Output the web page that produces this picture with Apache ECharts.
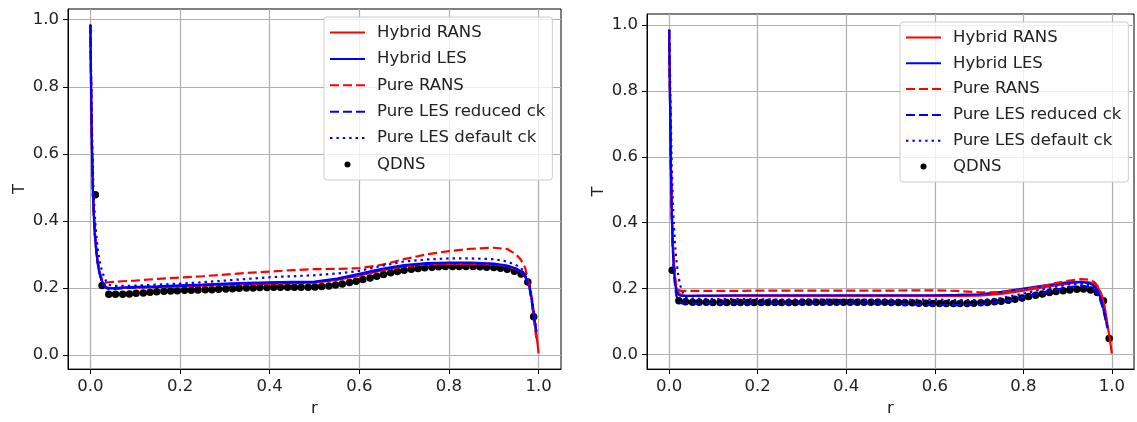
<!DOCTYPE html>
<html><head><meta charset="utf-8">
<script src="https://cdn.jsdelivr.net/npm/echarts@6/dist/echarts.min.js"></script>
<style>html,body{margin:0;padding:0;background:#fff}#c{width:1137px;height:422px}</style>
</head><body><div id="c"></div>
<script>
// ---------- data ----------
const seriesNames = ['Hybrid RANS', 'Hybrid LES', 'Pure RANS', 'Pure LES reduced ck', 'Pure LES default ck', 'QDNS'];
const tickValues = [0, 0.2, 0.4, 0.6, 0.8, 1.0];
const xLabel = 'r';
const yLabel = 'T';

// common r grid for the model curves
const rLine = [0, 0.002, 0.004, 0.006, 0.008, 0.01, 0.013, 0.016, 0.02, 0.025, 0.03, 0.035, 0.04, 0.05, 0.07, 0.1, 0.15, 0.2, 0.25, 0.3, 0.35, 0.4, 0.45, 0.5, 0.55, 0.6, 0.65, 0.7, 0.75, 0.8, 0.85, 0.9, 0.93, 0.95, 0.96, 0.97, 0.98, 0.985, 0.99, 0.995, 1.0];

// left panel
const leftHybridRans = [0.983, 0.74, 0.58, 0.47, 0.41, 0.36, 0.315, 0.28, 0.25, 0.225, 0.21, 0.203, 0.2, 0.199, 0.2, 0.201, 0.203, 0.205, 0.207, 0.209, 0.211, 0.213, 0.214, 0.216, 0.224, 0.237, 0.252, 0.264, 0.27, 0.272, 0.272, 0.27, 0.265, 0.256, 0.248, 0.235, 0.205, 0.17, 0.12, 0.065, 0.005];
const leftHybridLes = [0.985, 0.74, 0.575, 0.465, 0.405, 0.355, 0.31, 0.275, 0.245, 0.222, 0.208, 0.201, 0.199, 0.199, 0.201, 0.203, 0.205, 0.208, 0.21, 0.213, 0.215, 0.217, 0.218, 0.219, 0.228, 0.242, 0.257, 0.268, 0.274, 0.276, 0.276, 0.273, 0.267, 0.258, 0.25, 0.237, 0.2, 0.16, 0.11, 0.07, null];
const leftPureRans = [0.985, 0.75, 0.59, 0.48, 0.415, 0.365, 0.318, 0.283, 0.253, 0.228, 0.217, 0.216, 0.217, 0.218, 0.22, 0.222, 0.227, 0.231, 0.235, 0.24, 0.245, 0.249, 0.253, 0.256, 0.257, 0.259, 0.269, 0.286, 0.3, 0.31, 0.317, 0.32, 0.316, 0.3, 0.285, 0.26, 0.205, 0.16, 0.1, 0.05, null];
const leftPureLesReduced = [0.985, 0.745, 0.58, 0.47, 0.408, 0.358, 0.312, 0.277, 0.246, 0.222, 0.207, 0.2, 0.197, 0.197, 0.199, 0.201, 0.203, 0.206, 0.208, 0.211, 0.213, 0.215, 0.216, 0.217, 0.226, 0.24, 0.255, 0.266, 0.272, 0.274, 0.274, 0.271, 0.265, 0.256, 0.248, 0.235, 0.198, 0.158, 0.108, 0.068, null];
const leftPureLesDefault = [0.985, 0.8, 0.64, 0.53, 0.46, 0.41, 0.36, 0.32, 0.285, 0.255, 0.235, 0.22, 0.21, 0.206, 0.206, 0.207, 0.21, 0.213, 0.217, 0.222, 0.227, 0.232, 0.235, 0.238, 0.243, 0.251, 0.266, 0.279, 0.285, 0.288, 0.288, 0.286, 0.279, 0.268, 0.26, 0.245, 0.21, 0.17, 0.12, 0.075, null];
const leftQdnsR = [0.011, 0.026, 0.041, 0.056, 0.072, 0.087, 0.102, 0.118, 0.133, 0.148, 0.164, 0.179, 0.194, 0.21, 0.225, 0.24, 0.256, 0.271, 0.286, 0.302, 0.317, 0.332, 0.348, 0.363, 0.378, 0.394, 0.409, 0.424, 0.44, 0.455, 0.47, 0.486, 0.501, 0.516, 0.532, 0.547, 0.562, 0.578, 0.593, 0.608, 0.624, 0.639, 0.654, 0.67, 0.685, 0.7, 0.716, 0.731, 0.746, 0.762, 0.777, 0.792, 0.808, 0.823, 0.838, 0.854, 0.869, 0.884, 0.9, 0.915, 0.93, 0.946, 0.961, 0.976, 0.989];
const leftQdnsT = [0.478, 0.207, 0.181, 0.181, 0.181, 0.182, 0.184, 0.185, 0.187, 0.189, 0.19, 0.191, 0.192, 0.193, 0.193, 0.194, 0.195, 0.195, 0.196, 0.197, 0.198, 0.199, 0.2, 0.2, 0.201, 0.201, 0.202, 0.202, 0.202, 0.202, 0.202, 0.202, 0.203, 0.204, 0.206, 0.209, 0.212, 0.216, 0.22, 0.225, 0.23, 0.235, 0.24, 0.245, 0.249, 0.253, 0.256, 0.258, 0.26, 0.262, 0.263, 0.264, 0.264, 0.264, 0.264, 0.264, 0.263, 0.262, 0.261, 0.259, 0.256, 0.25, 0.242, 0.218, 0.114];

// right panel
const rightHybridRans = [0.983, 0.78, 0.58, 0.44, 0.35, 0.29, 0.235, 0.205, 0.19, 0.183, 0.18, 0.179, 0.178, 0.178, 0.178, 0.178, 0.178, 0.178, 0.178, 0.178, 0.178, 0.178, 0.178, 0.178, 0.178, 0.178, 0.178, 0.179, 0.184, 0.194, 0.205, 0.215, 0.22, 0.219, 0.213, 0.2, 0.165, 0.135, 0.09, 0.05, 0.003];
const rightHybridLes = [0.985, 0.77, 0.56, 0.42, 0.33, 0.27, 0.22, 0.195, 0.183, 0.179, 0.178, 0.178, 0.178, 0.178, 0.179, 0.179, 0.18, 0.18, 0.18, 0.18, 0.18, 0.18, 0.18, 0.18, 0.18, 0.18, 0.181, 0.183, 0.19, 0.2, 0.21, 0.219, 0.221, 0.216, 0.208, 0.19, 0.145, 0.115, 0.085, null, null];
const rightPureRans = [0.985, 0.78, 0.58, 0.44, 0.35, 0.29, 0.24, 0.21, 0.197, 0.194, 0.193, 0.193, 0.193, 0.193, 0.193, 0.193, 0.193, 0.194, 0.194, 0.194, 0.194, 0.194, 0.194, 0.194, 0.195, 0.195, 0.193, 0.189, 0.189, 0.197, 0.21, 0.224, 0.229, 0.227, 0.22, 0.205, 0.17, 0.13, 0.085, null, null];
const rightPureLesReduced = [0.985, 0.77, 0.56, 0.42, 0.33, 0.27, 0.215, 0.18, 0.165, 0.158, 0.155, 0.155, 0.155, 0.155, 0.155, 0.155, 0.155, 0.155, 0.155, 0.155, 0.155, 0.155, 0.155, 0.155, 0.153, 0.151, 0.15, 0.152, 0.16, 0.175, 0.19, 0.204, 0.209, 0.205, 0.197, 0.18, 0.14, 0.11, 0.08, null, null];
const rightPureLesDefault = [0.985, 0.85, 0.7, 0.57, 0.48, 0.41, 0.34, 0.29, 0.245, 0.21, 0.19, 0.178, 0.172, 0.17, 0.169, 0.168, 0.168, 0.168, 0.167, 0.167, 0.167, 0.166, 0.166, 0.166, 0.166, 0.167, 0.165, 0.165, 0.171, 0.185, 0.2, 0.212, 0.215, 0.211, 0.203, 0.185, 0.145, 0.115, 0.085, null, null];
const rightQdnsR = [0.007, 0.022, 0.037, 0.053, 0.068, 0.084, 0.099, 0.115, 0.13, 0.146, 0.161, 0.177, 0.192, 0.208, 0.223, 0.239, 0.254, 0.27, 0.285, 0.301, 0.316, 0.332, 0.347, 0.363, 0.378, 0.394, 0.409, 0.425, 0.44, 0.456, 0.471, 0.487, 0.502, 0.518, 0.533, 0.549, 0.564, 0.58, 0.595, 0.611, 0.626, 0.642, 0.657, 0.673, 0.688, 0.704, 0.719, 0.735, 0.75, 0.766, 0.781, 0.797, 0.812, 0.828, 0.843, 0.859, 0.874, 0.89, 0.905, 0.921, 0.936, 0.952, 0.967, 0.981, 0.994];
const rightQdnsT = [0.256, 0.163, 0.16, 0.159, 0.159, 0.159, 0.158, 0.158, 0.158, 0.158, 0.158, 0.158, 0.158, 0.158, 0.158, 0.158, 0.158, 0.158, 0.158, 0.159, 0.159, 0.159, 0.159, 0.159, 0.159, 0.159, 0.159, 0.159, 0.159, 0.159, 0.159, 0.159, 0.158, 0.158, 0.157, 0.157, 0.156, 0.156, 0.155, 0.155, 0.155, 0.155, 0.155, 0.155, 0.156, 0.157, 0.158, 0.16, 0.162, 0.165, 0.168, 0.172, 0.176, 0.18, 0.184, 0.188, 0.191, 0.194, 0.196, 0.198, 0.199, 0.196, 0.188, 0.163, 0.049];

// ---------- chart ----------
const FONT = 'DejaVu Sans';
const FS = 16.5;
const RED = '#ff0000', BLUE = '#0000ff';
const LW = 2.2;
const DASH = [9, 4];
const DOT = [2.4, 4];
const styles = [
  {color: RED, type: 'solid'},
  {color: BLUE, type: 'solid'},
  {color: RED, type: DASH},
  {color: BLUE, type: DASH},
  {color: BLUE, type: DOT}
];
const panels = [
  {lines: [leftHybridRans, leftHybridLes, leftPureRans, leftPureLesReduced, leftPureLesDefault], qR: leftQdnsR, qT: leftQdnsT},
  {lines: [rightHybridRans, rightHybridLes, rightPureRans, rightPureLesReduced, rightPureLesDefault], qR: rightQdnsR, qT: rightQdnsT}
];

function pairs(xs, ys) { return xs.map((x, i) => [x, ys[i]]); }

const series = [];
panels.forEach((p, gi) => {
  p.lines.forEach((vals, si) => {
    series.push({
      name: seriesNames[si], type: 'line', xAxisIndex: gi, yAxisIndex: gi,
      data: pairs(rLine, vals), symbol: 'none', showSymbol: false, connectNulls: false,
      lineStyle: {color: styles[si].color, width: LW, type: styles[si].type},
      itemStyle: {color: styles[si].color},
      emphasis: {disabled: true}, animation: false
    });
  });
  series.push({
    name: seriesNames[5], type: 'scatter', xAxisIndex: gi, yAxisIndex: gi,
    data: pairs(p.qR, p.qT), symbol: 'circle', symbolSize: 7.5,
    itemStyle: {color: '#000', opacity: 1}, emphasis: {disabled: true}, animation: false
  });
});

const fmt = v => {
  const k = Math.round(v * 5);
  return Math.abs(v * 5 - k) < 1e-6 ? (k / 5).toFixed(1) : '';
};

function xAxis(gi) {
  return {
    type: 'value', gridIndex: gi, min: -0.05, max: 1.05,
    name: xLabel, nameLocation: 'middle', nameGap: 27,
    nameTextStyle: {fontFamily: FONT, fontSize: FS, color: '#222'},
    axisLine: {show: true, onZero: false, lineStyle: {color: '#000', width: 1}},
    axisTick: {show: true, inside: false, length: 5, customValues: tickValues, lineStyle: {color: '#000', width: 1}},
    axisLabel: {show: true, margin: 9, customValues: tickValues, formatter: fmt, fontFamily: FONT, fontSize: FS, color: '#222'},
    splitLine: {show: true, lineStyle: {color: '#b0b0b0', width: 1.2}}
  };
}
function yAxis(gi, mn, mx) {
  return {
    type: 'value', gridIndex: gi, min: mn, max: mx,
    name: yLabel, nameLocation: 'middle', nameGap: 40, nameRotate: 90,
    nameTextStyle: {fontFamily: FONT, fontSize: FS, color: '#222'},
    axisLine: {show: true, onZero: false, lineStyle: {color: '#000', width: 1}},
    axisTick: {show: true, inside: false, length: 5, customValues: tickValues, lineStyle: {color: '#000', width: 1}},
    axisLabel: {show: true, margin: 9, customValues: tickValues, formatter: fmt, fontFamily: FONT, fontSize: FS, color: '#222'},
    splitLine: {show: true, lineStyle: {color: '#b0b0b0', width: 1.2}}
  };
}

const qdnsIcon = 'path://M0,0M35,14M20.5,7A3,3,0,1,1,14.5,7A3,3,0,1,1,20.5,7Z';
function legend(left, top, gap) {
  return {
    orient: 'vertical', left: left, top: top, itemWidth: 35, itemHeight: 14, itemGap: gap,
    padding: [7, 7, 7, 5], backgroundColor: 'rgba(255,255,255,0.8)', borderColor: '#cccccc',
    borderWidth: 1, borderRadius: 3, selectedMode: false,
    textStyle: {fontFamily: FONT, fontSize: FS, color: '#222', lineHeight: 16, padding: [0, 0, 0, 7]},
    itemStyle: {opacity: 0},
    data: seriesNames.slice(0, 5).map(n => ({name: n})).concat([{name: 'QDNS', icon: qdnsIcon, itemStyle: {opacity: 1, color: '#000'}}])
  };
}

const option = {
  backgroundColor: '#fff',
  animation: false,
  grid: [
    {left: 68, top: 9, width: 493, height: 367, show: true, borderColor: '#000', borderWidth: 1, backgroundColor: 'transparent', containLabel: false},
    {left: 647, top: 14, width: 487, height: 363, show: true, borderColor: '#000', borderWidth: 1, backgroundColor: 'transparent', containLabel: false}
  ],
  xAxis: [xAxis(0), xAxis(1)],
  yAxis: [yAxis(0, -0.042, 1.032), yAxis(1, -0.044, 1.033)],
  legend: [legend(324, 17, 9.4), legend(900, 22, 8.8)],
  series: series
};

const chart = echarts.init(document.getElementById('c'), null, {renderer: 'canvas'});
chart.setOption(option);
</script>
</body></html>
